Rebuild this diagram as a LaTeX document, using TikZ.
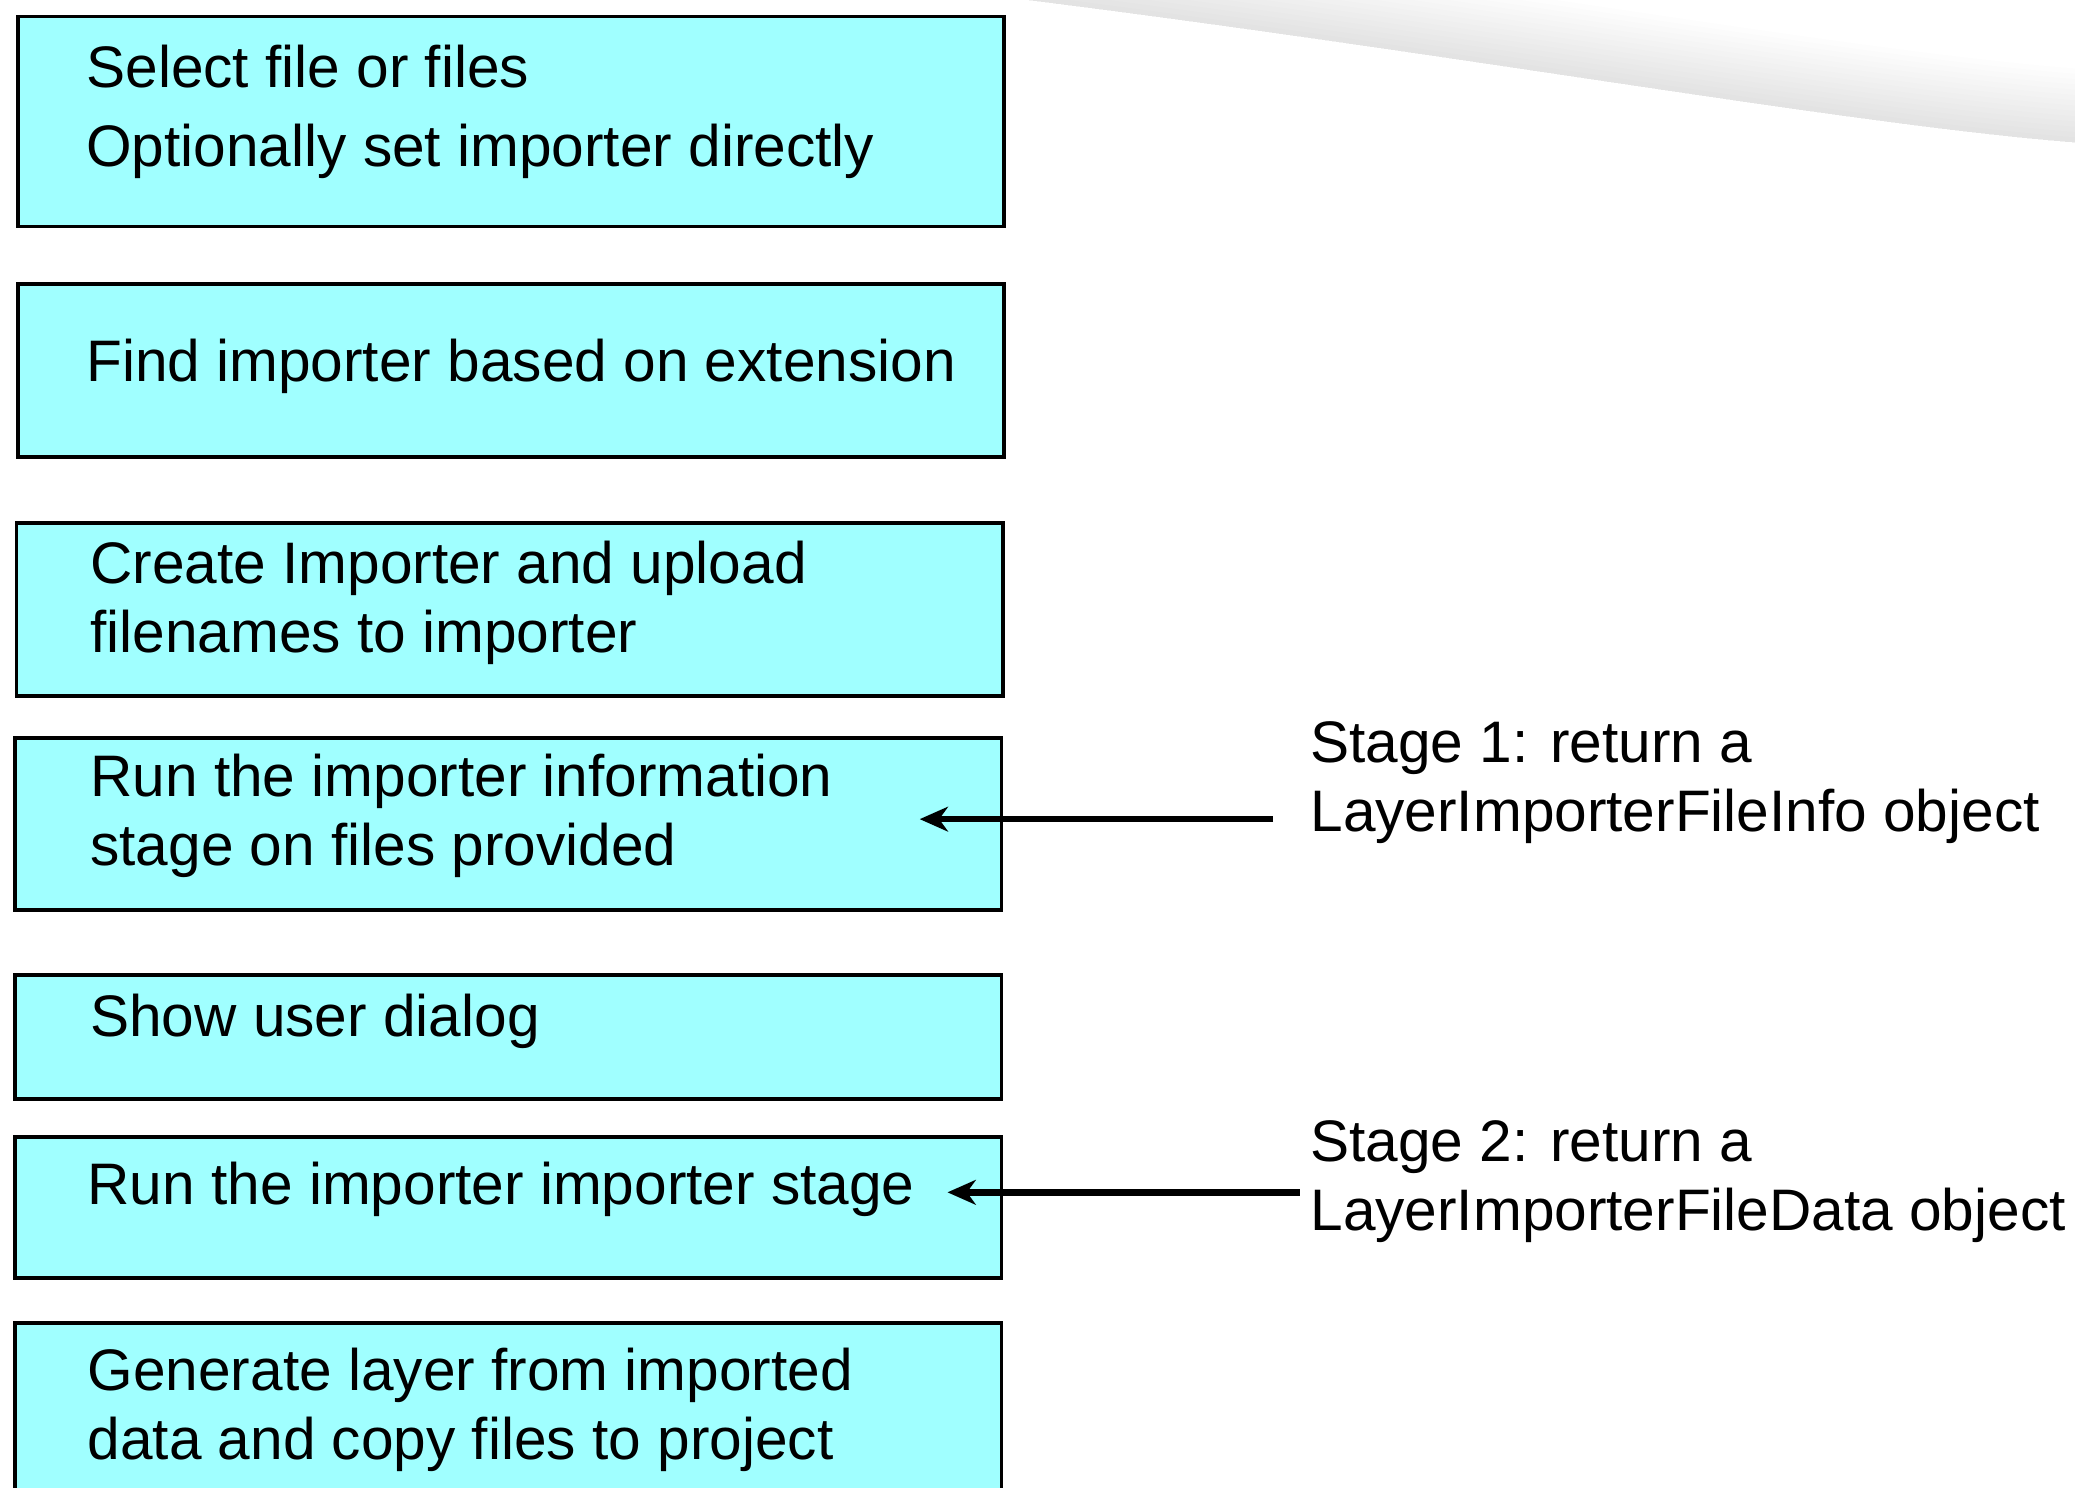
\documentclass[tikz,border=0pt]{standalone}
\usepackage{fontspec}
\setmainfont{Liberation Sans}
\usepackage{xcolor}
\usetikzlibrary{arrows.meta}
\definecolor{boxcyan}{RGB}{160,255,255}

\begin{document}
\begin{tikzpicture}[x=0.75pt,y=0.75pt,yscale=-1,xscale=1,
    stepbox/.style={draw=black,fill=boxcyan,line width=2.2pt,anchor=north west,minimum width=559pt,inner sep=0pt},
    steptext/.style={anchor=base west,inner sep=0pt,align=left,font=\fontsize{33.2}{39}\selectfont},
    stagearrow/.style={line width=3.6pt,-{Stealth[length=16pt,width=14pt,inset=5pt]}}]
\useasboundingbox (0,0) rectangle (1568,1124);

%Swoosh top right
\foreach \k in {1,...,14}
    \fill [black,opacity=0.009] (760,-2) .. controls (1100,40) and (1400,95) .. (1572,108) -- (1572,{108-\k*4}) .. controls (1400,{95-\k*4}) and (1100,{40-\k*4}) .. (760,{-2-\k*4}) -- cycle ;

%Shapes: Boxes
\node [stepbox,minimum height=119pt] (selbox) at (12,11) {};
\node [stepbox,minimum height=98pt] (findbox) at (12,213) {};
\node [stepbox,minimum height=98pt] (createbox) at (11,394) {};
\node [stepbox,minimum height=97.5pt] (infobox) at (10,556) {};
\node [stepbox,minimum height=70.5pt] (dialogbox) at (10,735) {};
\node [stepbox,minimum height=79.5pt] (runbox) at (10,858) {};
\node [stepbox,minimum height=105pt] (genbox) at (10,998) {};

% Text Node (base of the last line)
\node [steptext] (seltext) at (65,126) {Select file or files\\[6pt]Optionally set importer directly};
% Text Node
\node [steptext] (findtext) at (65,288) {Find importer based on extension};
% Text Node
\node [steptext] (createtext) at (68,493) {Create Importer and upload\\filenames to importer};
% Text Node
\node [steptext] (infotext) at (68,654) {Run the importer information\\stage on files provided};
% Text Node
\node [steptext] (dialogtext) at (68,783) {Show user dialog};
% Text Node
\node [steptext] (runtext) at (66,910) {Run the importer importer stage};
% Text Node
\node [steptext] (gentext) at (66,1103) {Generate layer from imported\\data and copy files to project};

% Stage labels
\node [steptext] (stageone) at (990,628) {Stage 1: return a\\LayerImporterFileInfo object};
\node [steptext] (stagetwo) at (990,930) {Stage 2: return a\\LayerImporterFileData object};

%Straight Lines: arrows
\coordinate (tailone) at (962,619);
\coordinate (tipone) at (695,619);
\coordinate (tailtwo) at (982,901);
\coordinate (tiptwo) at (716,901);
\draw [stagearrow] (tailone) -- (tipone);
\draw [stagearrow] (tailtwo) -- (tiptwo);
\end{tikzpicture}
\end{document}
